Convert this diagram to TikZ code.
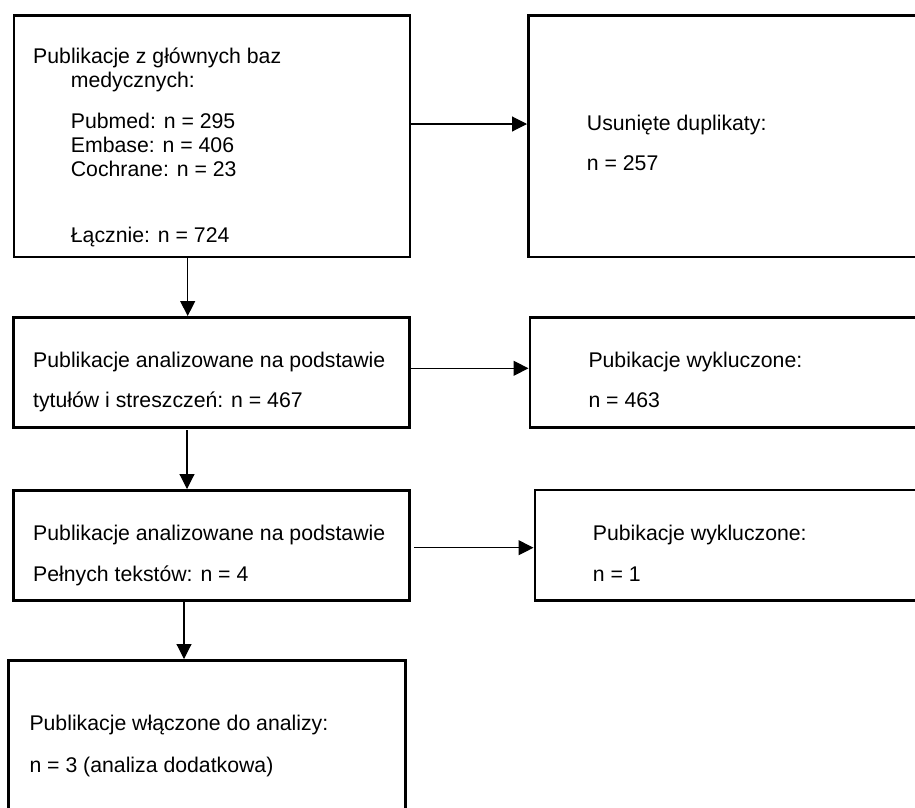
\documentclass[tikz,border=0pt]{standalone}
\usepackage{fontspec}
\setmainfont{Liberation Sans}
\usetikzlibrary{arrows.meta,calc}
\begin{document}
\begin{tikzpicture}[x=1pt,y=-1pt,
  box/.style={draw=black,line width=2.6pt,inner sep=0pt,anchor=north west},
  txt/.style={anchor=base west,inner sep=0pt,font=\fontsize{21.25}{24}\selectfont},
  arr/.style={line width=1.1pt,-{Triangle[length=15pt,width=15pt]}},
  conn/.style={line width=1.1pt}]
\useasboundingbox (0,0) rectangle (915,807);
\clip (0,0) rectangle (915,807);
% boxes
\node[box,minimum width=396pt,minimum height=241.5pt] (b1) at (12.5,14) {};
\node[box,minimum width=433pt,minimum height=241.5pt] (b2) at (527,14) {};
\node[box,minimum width=396pt,minimum height=110pt] (b3) at (12,316) {};
\node[box,minimum width=432pt,minimum height=110pt] (b4) at (528.5,316) {};
\node[box,minimum width=396pt,minimum height=110pt] (b5) at (12,489) {};
\node[box,minimum width=427pt,minimum height=110.5pt] (b6) at (533.5,488.5) {};
\node[box,minimum width=397pt,minimum height=190pt] (b7) at (7,659) {};
% texts
\node[txt] (t1a) at (33,63) {Publikacje z głównych baz};
\node[txt] (t1b) at (70.7,87) {medycznych:};
\node[txt] (t1c) at (70.7,128) {Pubmed: n = 295};
\node[txt] (t1d) at (70.7,152) {Embase: n = 406};
\node[txt] (t1e) at (70.7,176) {Cochrane: n = 23};
\node[txt] (t1f) at (70.7,242) {Łącznie: n = 724};
\node[txt] (t2a) at (586.7,130) {Usunięte duplikaty:};
\node[txt] (t2b) at (586.7,170.7) {n = 257};
\node[txt] (t3a) at (33,367.7) {Publikacje analizowane na podstawie};
\node[txt] (t3b) at (33,407) {tytułów i streszczeń: n = 467};
\node[txt] (t4a) at (588.3,367.3) {Pubikacje wykluczone:};
\node[txt] (t4b) at (588.3,407.7) {n = 463};
\node[txt] (t5a) at (33,540) {Publikacje analizowane na podstawie};
\node[txt] (t5b) at (33,581) {Pełnych tekstów: n = 4};
\node[txt] (t6a) at (592.7,540) {Pubikacje wykluczone:};
\node[txt] (t6b) at (592.7,581) {n = 1};
\node[txt] (t7a) at (29.3,730) {Publikacje włączone do analizy:};
\node[txt] (t7b) at (29.3,772.3) {n = 3 (analiza dodatkowa)};
% helper coordinates
\coordinate (h1) at (0,124);
\coordinate (h2) at (0,368.3);
\coordinate (h3) at (414,547.7);
\coordinate (v1) at (187.7,0);
\coordinate (v2) at (187,430);
\coordinate (v3) at (184,0);
% connectors
\draw[arr] (b1.east |- h1) -- (b2.west |- h1);
\draw[arr] (b3.east |- h2) -- (b4.west |- h2);
\draw[arr] (h3) -- (b6.west |- h3);
\draw[arr] (v1 |- b1.south) -- (v1 |- b3.north);
\draw[arr] (v2) -- (v2 |- b5.north);
\draw[arr] (v3 |- b5.south) -- (v3 |- b7.north);
\end{tikzpicture}
\end{document}
